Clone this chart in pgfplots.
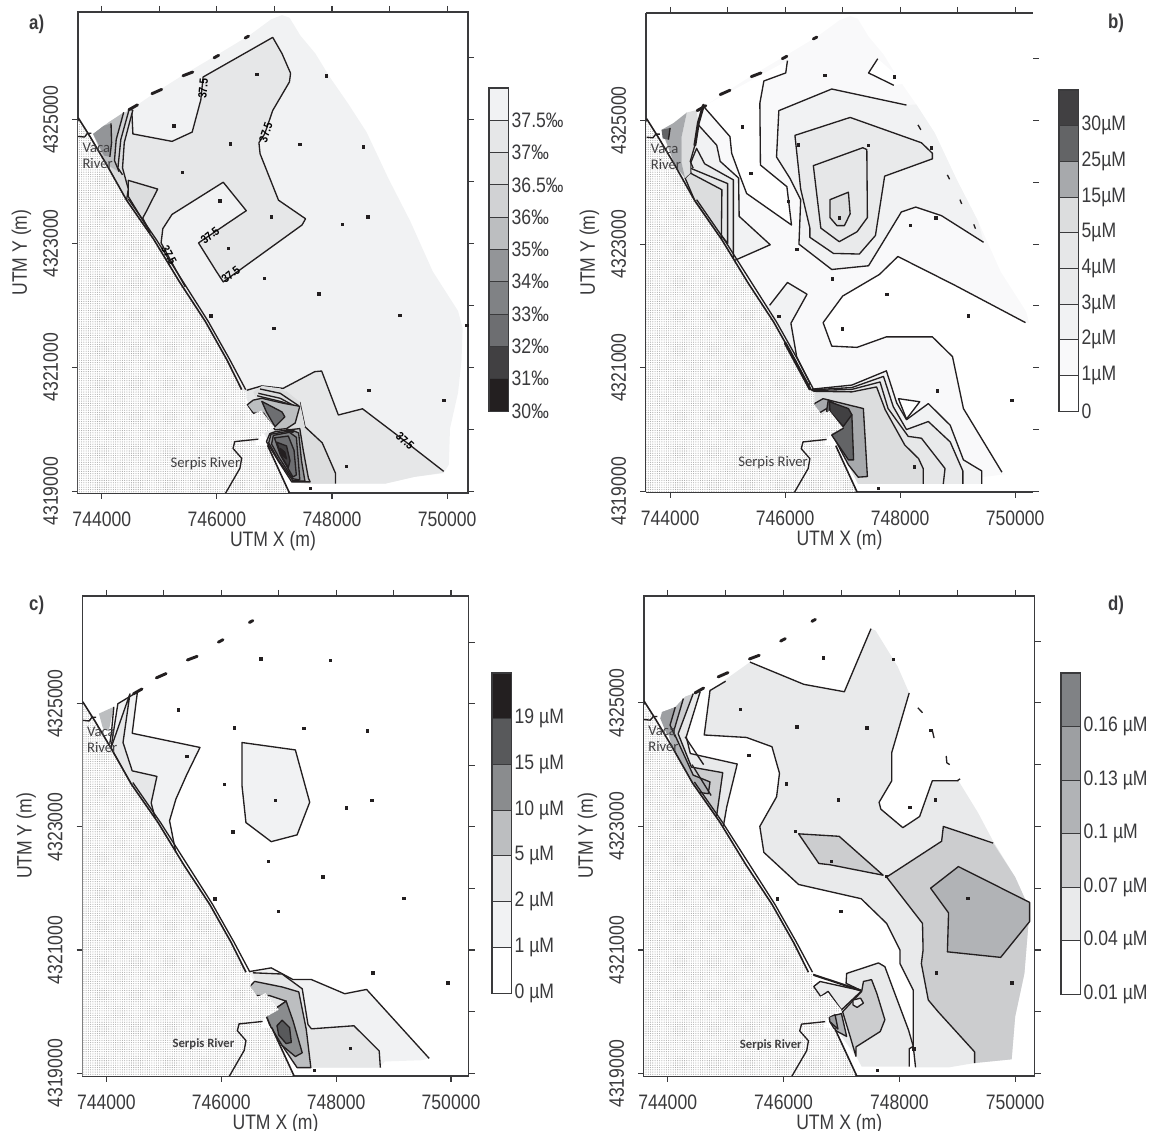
\documentclass[border=0pt]{standalone}
\usepackage{pgfplots}
\pgfplotsset{compat=1.18}
\usepackage{fontspec}
\setmainfont[FakeStretch=0.84]{Liberation Sans}
\newfontfamily\riverfont{Carlito}
\usetikzlibrary{patterns.meta}
\definecolor{gf9}{HTML}{F9F9FA}\definecolor{gf1}{HTML}{F1F2F3}\definecolor{ge9}{HTML}{E9EAEB}
\definecolor{ge6}{HTML}{E6E7E8}\definecolor{gdc}{HTML}{DCDDDE}\definecolor{gd1}{HTML}{D1D2D4}
\definecolor{gcc}{HTML}{CCCDCF}\definecolor{gbc}{HTML}{BCBEC0}\definecolor{gb1}{HTML}{B1B3B6}
\definecolor{ga7}{HTML}{A7A9AC}\definecolor{g9d}{HTML}{9D9FA2}\definecolor{g93}{HTML}{939598}
\definecolor{g8a}{HTML}{8A8C8E}\definecolor{g80}{HTML}{808285}\definecolor{g6d}{HTML}{6D6E71}
\definecolor{g63}{HTML}{636466}\definecolor{g58}{HTML}{58595B}\definecolor{g41}{HTML}{414042}
\definecolor{g23}{HTML}{231F20}\definecolor{fr}{HTML}{3A3A3C}
\newcommand\fil[2]{\addplot[fill=#1,draw=none] coordinates {#2} --cycle;}
\newcommand\reg[2]{\addplot[fill=#1,draw=g23,line width=1pt,line join=round] coordinates {#2} --cycle;}
\newcommand\ctr[1]{\addplot[draw=g23,line width=1pt,line join=round] coordinates {#1};}
\newcommand\dash[1]{\addplot[draw=g23,line width=2.2pt,line cap=round] coordinates {#1};}
\newcommand\domain[1]{\fil{#1}{(-0.15,5.77)(0.14,5.97)(0.65,6.26)(0.90,6.42)(1.41,6.72)(1.99,7.04)(2.56,7.36)(2.94,7.62)(3.13,7.69)(3.26,7.65)(3.45,7.36)(3.71,7.07)(3.96,6.69)(4.28,6.26)(4.60,5.80)(4.98,5.05)(5.36,4.36)(5.75,3.55)(6.19,2.91)(6.27,2.63)(6.25,2.11)(6.19,1.59)(6.05,1.01)(6.03,0.43)(5.94,0.29)(5.43,0.23)(4.92,0.12)(3.64,0.12)(3.32,0.14)(3.20,0.32)(2.91,0.78)(2.82,0.92)(3.0,1.07)(2.56,1.41)(2.43,1.64)(2.18,2.11)(1.80,2.74)(1.35,3.38)(0.90,4.07)(0.43,4.70)(0.08,5.28)}}
\newcommand\landarea{%
\addplot[fill=white,draw=none] coordinates {(-0.5,6.09)(-0.2,5.72)(0.08,5.28)(0.43,4.70)(0.90,4.07)(1.35,3.38)(1.80,2.74)(2.18,2.11)(2.43,1.64)(2.51,1.60)(2.51,1.40)(2.63,1.24)(2.77,1.30)(3.0,1.03)(2.79,0.92)(2.69,0.84)(2.69,0.74)(2.88,0.72)(3.27,-0.1)(-0.5,-0.1)} --cycle;
\addplot[pattern={Dots[distance=1.7pt,radius=0.42pt]},pattern color=black!34,draw=none] coordinates {(-0.5,6.09)(-0.2,5.72)(0.08,5.28)(0.43,4.70)(0.90,4.07)(1.35,3.38)(1.80,2.74)(2.18,2.11)(2.43,1.64)(2.51,1.60)(2.51,1.40)(2.63,1.24)(2.77,1.30)(3.0,1.03)(2.79,0.92)(2.69,0.84)(2.69,0.74)(2.88,0.72)(3.27,-0.1)(-0.5,-0.1)} --cycle;
\addplot[draw=g23,line width=1.2pt,line join=round] coordinates {(-0.41,6.03)(-0.2,5.72)(0.08,5.28)(0.43,4.70)(0.90,4.07)(1.35,3.38)(1.80,2.74)(2.18,2.11)(2.43,1.64)};
\ctr{(0.46,4.72)(0.95,4.06)(1.40,3.40)(1.85,2.74)(2.22,2.13)(2.5,1.64)}
\ctr{(2.72,0.84)(2.31,0.80)(2.28,0.69)(2.43,0.53)(2.40,0.37)(2.14,-0.05)}
\addplot[draw=g23,line width=1.2pt] coordinates {(2.88,0.74)(3.27,-0.05)};
\ctr{(-0.41,5.73)(-0.3,5.72)(-0.25,5.78)(-0.18,5.78)}
\dash{(0.47,6.16)(0.62,6.24)}\dash{(0.87,6.42)(1.04,6.49)}\dash{(1.41,6.71)(1.58,6.77)}\dash{(1.95,7.0)(2.03,7.04)}\dash{(2.49,7.32)(2.55,7.35)}
}
\newcommand\stations{\addplot[only marks,mark=square*,mark size=0.9pt,color=g23] coordinates {(2.69,6.73)(3.90,6.71)(1.25,5.90)(2.23,5.61)(3.44,5.60)(4.54,5.56)(1.40,5.15)(2.05,4.69)(2.94,4.43)(4.62,4.43)(4.18,4.31)(2.20,3.92)(2.82,3.44)(3.77,3.19)(5.18,2.84)(1.89,2.83)(2.99,2.63)(6.34,2.68)(4.64,1.63)(5.94,1.47)(4.25,0.40)(3.62,0.05)(3.20,7.77)};}
\pgfplotsset{
 map/.style={scale only axis,axis line style={fr,line width=0.9pt},clip=true,
  xtick={0,2,4,6},xticklabels={744000,746000,748000,750000},
  ytick={0,2,4,6},yticklabels={4319000,4321000,4323000,4325000},
  tick style={fr,line width=0.8pt},tick align=outside,
  xtick pos=bottom,ytick pos=left,major tick length=4.5pt,
  x tick label style={fill=none,yshift=-6pt,text=fr},
  y tick label style={rotate=90,anchor=south,yshift=7pt,text=fr},
  xlabel={UTM X (m)},ylabel={UTM Y (m)},
  xlabel style={text=fr,yshift=3.6pt},ylabel style={text=fr,yshift=2pt},
  font=\fontsize{15.7}{18}\selectfont,
  tick label style={font=\fontsize{15.7}{18}\selectfont},
  label style={font=\fontsize{15.7}{18}\selectfont}},
 mapt/.style={scale only axis,axis line style={draw=none},
  xtick={0,1,2,3,4,5,6},ytick={0,1,2,3,4,5,6,7},xticklabels={},yticklabels={},
  xtick pos=top,ytick pos=right,tick align=outside,tick style={fr,line width=0.8pt},major tick length=4.5pt},
 cbar/.style={scale only axis,width=14.5pt,xmin=0,xmax=1,xtick=\empty,ymin=0,
  axis line style={fr,line width=0.9pt},enlargelimits=false,
  ytick pos=right,ticklabel pos=right,major tick length=0pt,
  y tick label style={anchor=west,xshift=-1pt,text=fr,font=\fontsize{15.7}{18}\selectfont}},
}
\newcommand\seg[2]{\addplot[fill=#2,draw=fr,line width=0.7pt] coordinates {(0,#1)(1,#1)(1,#1+1)(0,#1+1)} --cycle;}
\tikzset{clab/.style={font=\fontsize{9}{9}\selectfont\bfseries,text=black,inner sep=0pt},
 rlab/.style={font=\riverfont\fontsize{11}{12}\selectfont,text=g41,inner sep=0pt,align=left}}
\begin{document}
\begin{tikzpicture}
\path[use as bounding box] (0,0) rectangle (862.5pt,848.25pt);
\node[font=\fontsize{15}{17}\selectfont\bfseries,text=fr] at (27.5pt,830pt) {a)};
\node[font=\fontsize{15}{17}\selectfont\bfseries,text=fr] at (837pt,831pt) {b)};
\node[font=\fontsize{15}{17}\selectfont\bfseries,text=fr] at (27.5pt,394pt) {c)};
\node[font=\fontsize{15}{17}\selectfont\bfseries,text=fr] at (837pt,394pt) {d)};
% ===== a =====
\begin{axis}[map,at={(58.5pt,478.5pt)},anchor=south west,width=292.5pt,height=360.75pt,xmin=-0.414,xmax=6.363,ymin=-0.03,ymax=7.74]
\domain{gf1}
\fil{ge6}{(0.52,6.17)(0.54,5.77)(1.22,5.65)(1.57,5.80)(1.72,6.32)(1.76,6.69)(2.97,7.33)(3.13,7.07)(3.28,6.75)(3.26,6.61)(2.97,6.15)(2.83,5.77)(2.73,5.63)(2.75,5.45)(3.07,4.70)(3.54,4.40)(3.48,4.30)(2.11,3.38)(1.99,3.55)(1.68,4.01)(2.51,4.53)(2.11,4.99)(1.22,4.47)(1.06,4.24)(1.03,4.01)(0.43,4.70)(0.30,5.3)}
\ctr{(0.52,6.17)(0.54,5.77)(1.22,5.65)(1.57,5.80)(1.72,6.32)(1.76,6.69)(2.97,7.33)(3.13,7.07)(3.28,6.75)(3.26,6.61)(2.97,6.15)(2.83,5.77)(2.73,5.63)(2.75,5.45)(3.07,4.70)(3.54,4.40)(3.48,4.30)(2.11,3.38)(1.99,3.55)(1.68,4.01)(2.51,4.53)(2.11,4.99)(1.22,4.47)(1.06,4.24)(1.03,4.01)(1.3,3.55)(1.45,3.3)}
\reg{gdc}{(0.46,5.02)(0.97,4.88)(0.78,4.53)(0.71,4.41)(0.84,4.18)(0.46,4.76)}
\fil{gdc}{(0.54,6.16)(0.39,5.63)(0.36,5.22)(0.46,4.88)(0.43,4.70)(0.08,5.28)(-0.15,5.77)(0.14,5.97)}
\ctr{(0.54,6.16)(0.39,5.63)(0.36,5.22)(0.46,4.88)(0.43,4.70)}
\fil{gd1}{(0.47,6.15)(0.33,5.68)(0.28,5.22)(0.36,5.11)(0.08,5.28)(-0.15,5.77)(0.14,5.97)}
\ctr{(0.47,6.15)(0.33,5.68)(0.28,5.22)(0.36,5.11)}
\fil{gbc}{(0.38,6.12)(0.25,5.68)(0.22,5.34)(0.30,5.16)(0.08,5.28)(-0.15,5.77)(0.14,5.97)}
\ctr{(0.38,6.12)(0.25,5.68)(0.22,5.34)(0.30,5.16)}
\fil{g93}{(0.16,5.94)(0.17,5.63)(0.14,5.40)(0.04,5.42)(-0.15,5.77)(0.03,5.90)}
\ctr{(0.16,5.94)(0.17,5.63)(0.14,5.40)}
% Serpis
\fil{ge6}{(2.43,1.64)(2.78,1.70)(3.15,1.66)(3.70,1.93)(3.82,1.94)(4.11,1.23)(4.53,1.33)(5.11,0.92)(5.94,0.30)(5.43,0.23)(4.92,0.12)(3.64,0.12)(3.32,0.14)(2.91,0.78)}
\ctr{(2.52,1.63)(2.78,1.70)(3.15,1.66)(3.70,1.93)(3.82,1.94)(4.11,1.23)(4.53,1.33)(5.11,0.92)(5.94,0.32)}
\fil{gdc}{(3.20,1.62)(3.44,1.44)(3.53,1.04)(3.83,0.78)(4.06,0.29)(4.06,0.12)(3.64,0.12)(3.32,0.14)(3.01,1.0)}
\ctr{(3.44,1.44)(3.53,1.04)(3.83,0.78)(4.06,0.29)(4.06,0.12)}
\fil{gdc}{(2.63,1.60)(2.78,1.70)(3.10,1.66)(3.44,1.44)(3.53,1.04)(3.21,1.01)(2.81,1.26)}
\ctr{(2.75,1.65)(3.1,1.58)(3.42,1.38)}\ctr{(2.72,1.58)(3.1,1.50)(3.42,1.34)}\ctr{(2.7,1.54)(3.1,1.45)(3.40,1.36)}
\reg{gbc}{(2.52,1.39)(2.63,1.47)(2.78,1.50)(3.15,1.42)(3.44,1.37)(3.36,1.10)(3.21,1.01)(3.01,0.99)(2.81,1.26)(2.63,1.26)}
\reg{g6d}{(2.78,1.45)(3.13,1.28)(3.18,1.20)(3.01,1.04)(2.86,1.28)}
\reg{gbc}{(2.92,0.93)(3.01,0.96)(3.24,0.99)(3.44,1.01)(3.50,0.66)(3.59,0.21)(3.62,0.15)(3.30,0.15)(3.07,0.48)(2.86,0.80)}
\reg{g93}{(2.94,0.92)(3.32,0.98)(3.42,0.94)(3.47,0.49)(3.53,0.16)(3.32,0.17)(3.07,0.50)(2.90,0.78)}
\reg{g80}{(2.98,0.90)(3.26,0.95)(3.38,0.87)(3.42,0.43)(3.44,0.18)(3.32,0.20)(3.08,0.54)(2.95,0.76)}
\reg{g6d}{(3.00,0.86)(3.24,0.89)(3.34,0.66)(3.38,0.26)(3.32,0.23)(3.10,0.59)}
\reg{g41}{(3.04,0.79)(3.21,0.73)(3.27,0.49)(3.24,0.38)(3.13,0.55)}
\reg{g23}{(3.10,0.69)(3.18,0.63)(3.21,0.52)(3.13,0.58)}
\dash{(3.22,0.99)(3.32,0.96)}
\landarea
\stations
\node[clab,rotate=85] at (axis cs:1.76,6.50) {37.5};
\node[clab,rotate=72] at (axis cs:2.85,5.79) {37.5};
\node[clab,rotate=38] at (axis cs:1.88,4.13) {37.5};
\node[clab,rotate=38] at (axis cs:2.24,3.50) {37.5};
\node[clab,rotate=-42] at (axis cs:5.27,0.81) {37.5};
\node[clab,rotate=-62] at (axis cs:1.17,3.81) {37.5};
\node[rlab,anchor=west] at (axis cs:-0.34,5.42) {Vaca\\River};
\node[rlab] at (axis cs:1.80,0.44) {Serpis River};
\end{axis}
\begin{axis}[mapt,at={(58.5pt,478.5pt)},anchor=south west,width=292.5pt,height=360.75pt,xmin=-0.414,xmax=6.363,ymin=-0.03,ymax=7.74]
\end{axis}
\begin{axis}[cbar,at={(366.75pt,540pt)},anchor=south west,height=242.25pt,ymax=10,
 ytick={0,1,2,3,4,5,6,7,8,9},yticklabels={30‰,31‰,32‰,33‰,34‰,35‰,36‰,36.5‰,37‰,37.5‰}]
\seg{0}{g23}\seg{1}{g41}\seg{2}{g6d}\seg{3}{g80}\seg{4}{g93}\seg{5}{gbc}\seg{6}{gd1}\seg{7}{gdc}\seg{8}{ge6}\seg{9}{gf1}
\end{axis}
% ===== b =====
\begin{axis}[map,axis y line*=left,at={(484.5pt,479.25pt)},anchor=south west,width=290.25pt,height=359.25pt,xmin=-0.42,xmax=6.31,ymin=-0.01,ymax=7.74]
\domain{gf9}
\fil{white}{(6.18,2.73)(4.94,3.34)(3.96,3.80)(3.64,3.51)(3.0,3.16)(2.66,2.73)(2.81,2.35)(3.25,2.33)(3.76,2.50)(4.56,2.50)(4.91,2.18)(5.10,1.34)(5.77,0.31)(6.4,0)(6.4,2.73)}
\ctr{(6.18,2.73)(4.94,3.34)(3.96,3.80)(3.64,3.51)(3.0,3.16)(2.66,2.73)(2.81,2.35)(3.25,2.33)(3.76,2.50)(4.56,2.50)(4.91,2.18)(5.10,1.34)(5.77,0.31)}
\fil{white}{(0.58,6.23)(2.04,6.97)(2.01,6.77)(1.63,6.64)(1.56,6.28)(1.57,5.28)(2.03,4.93)(2.11,4.31)(1.33,4.82)(1.22,5.09)(1.07,5.47)(1.04,5.74)}
\ctr{(2.04,6.97)(2.01,6.77)(1.63,6.64)(1.56,6.28)(1.57,5.28)(2.03,4.93)(2.11,4.31)(1.33,4.82)(1.22,5.09)(1.07,5.47)(1.04,5.74)(0.58,6.23)}
\fil{white}{(3.61,7.0)(3.45,6.77)(3.89,6.57)(4.1,6.6)}
\ctr{(3.61,7.0)(3.45,6.77)(3.89,6.57)}
\fil{gf1}{(4.11,6.25)(2.81,6.51)(1.89,6.16)(1.85,5.41)(2.08,5.07)(2.27,4.72)(2.24,4.0)(2.81,3.59)(3.45,3.65)(3.70,4.03)(4.02,4.52)(4.27,4.60)(4.72,4.46)(5.45,4.03)(5.36,4.36)(4.98,5.05)(4.60,5.80)(4.28,6.26)}
\ctr{(4.11,6.25)(2.81,6.51)(1.89,6.16)(1.85,5.41)(2.08,5.07)(2.27,4.72)(2.24,4.0)(2.81,3.59)(3.45,3.65)(3.70,4.03)(4.02,4.52)(4.27,4.60)(4.72,4.46)(5.45,4.03)}
\reg{ge9}{(2.17,5.76)(3.13,6.05)(4.37,5.64)(4.56,5.47)(4.56,5.38)(3.73,5.10)(3.57,4.14)(3.29,3.84)(2.84,3.85)(2.43,4.11)(2.43,4.26)(2.27,4.89)}
\reg{ge6}{(2.49,5.27)(3.35,5.56)(3.42,5.53)(3.43,4.43)(3.25,4.20)(2.94,4.04)(2.62,4.26)}
\reg{gdc}{(2.78,4.72)(3.10,4.84)(3.13,4.49)(3.03,4.30)(2.90,4.30)(2.78,4.43)}
% Vaca
\fil{gf1}{(0.49,5.93)(0.81,5.60)(0.87,5.34)(1.19,5.07)(1.2,4.45)(1.74,3.99)(1.13,3.74)(0.9,4.0)(0.43,4.7)(0.08,5.28)(0.3,6.0)}
\ctr{(0.49,5.93)(0.81,5.60)(0.87,5.34)(1.19,5.07)(1.2,4.45)(1.74,3.99)(1.13,3.74)}
\reg{ge9}{(0.46,5.55)(0.60,5.30)(1.10,5.04)(1.10,3.70)(0.43,4.7)(0.35,5.3)}
\reg{ge6}{(0.35,5.23)(1.0,4.98)(1.0,4.01)(0.43,4.7)}
\reg{gdc}{(0.35,5.15)(0.90,4.88)(0.89,4.07)(0.43,4.7)(0.26,5.07)}
\fil{gdc}{(0.46,6.17)(0.29,6.13)(0.20,5.74)(0.20,5.31)(0.26,5.07)(0.35,5.15)(0.35,5.34)(0.43,5.6)(0.49,5.96)}
\fil{ga7}{(0.29,6.13)(0.20,5.74)(0.20,5.31)(0.26,5.07)(0.08,5.28)(-0.15,5.85)(0.06,5.96)}
\fil{g63}{(-0.15,5.85)(0,5.88)(-0.03,5.69)(-0.13,5.71)}
\ctr{(0,5.88)(-0.03,5.69)}
\dash{(0.58,6.25)(0.49,5.96)(0.43,5.6)}
\ctr{(0.43,5.6)(0.35,5.34)(0.40,5.23)}
% Serpis
\fil{gf1}{(2.43,1.65)(3.16,1.72)(3.76,1.95)(3.94,1.43)(4.11,1.16)(4.49,1.42)(4.87,1.07)(5.10,0.51)(5.42,0.33)(5.42,0.12)(3.27,0.12)(3.10,0.43)(2.81,0.94)(2.49,1.40)}
\ctr{(2.43,1.65)(3.16,1.72)(3.76,1.95)(3.94,1.43)(4.11,1.16)(4.49,1.42)(4.87,1.07)(5.10,0.51)(5.42,0.33)(5.42,0.12)}
\fil{ge9}{(2.43,1.64)(3.16,1.68)(3.71,1.86)(3.88,1.37)(4.11,1.0)(4.49,1.13)(4.87,0.80)(5.09,0.33)(5.09,0.12)(3.27,0.12)(3.10,0.43)(2.81,0.94)(2.49,1.40)}
\ctr{(2.43,1.64)(3.16,1.68)(3.71,1.86)(3.88,1.37)(4.11,1.0)(4.49,1.13)(4.87,0.80)(5.09,0.33)(5.09,0.12)}
\fil{ge6}{(2.43,1.63)(3.16,1.65)(3.65,1.77)(3.79,1.34)(4.14,0.89)(4.37,0.86)(4.78,0.37)(4.75,0.12)(3.27,0.12)(3.10,0.43)(2.81,0.94)(2.49,1.40)}
\ctr{(2.43,1.63)(3.16,1.65)(3.65,1.77)(3.79,1.34)(4.14,0.89)(4.37,0.86)(4.78,0.37)(4.75,0.12)}
\fil{gdc}{(2.43,1.62)(3.16,1.61)(3.59,1.69)(3.74,1.32)(4.08,0.75)(4.32,0.53)(4.40,0.37)(4.40,0.12)(3.27,0.12)(3.10,0.43)(2.81,0.94)(2.49,1.40)}
\ctr{(2.43,1.62)(3.16,1.61)(3.59,1.69)(3.74,1.32)(4.08,0.75)(4.32,0.53)(4.40,0.37)(4.40,0.12)}
\reg{white}{(3.97,1.50)(4.34,1.45)(4.11,1.17)}
\reg{ga7}{(2.49,1.41)(2.66,1.50)(3.36,1.34)(3.43,0.24)(3.27,0.23)(3.10,0.43)(2.81,0.94)(2.98,1.02)(2.72,1.34)(2.58,1.26)}
\reg{g63}{(2.75,1.48)(3.16,1.24)(3.19,0.51)(3.10,0.51)(2.81,0.91)(3.01,1.02)(2.72,1.30)}
\reg{g41}{(2.77,1.45)(3.10,1.34)(3.16,1.24)(3.01,1.05)(2.78,1.29)}
\fil{gf1}{(1.73,3.01)(2.04,3.38)(2.38,3.19)(2.10,2.72)(2.20,2.18)(2.43,1.75)(2.36,1.66)(2.18,2.11)(1.80,2.74)(1.6,3.0)}
\ctr{(1.73,3.01)(2.04,3.38)(2.38,3.19)(2.10,2.72)(2.20,2.18)(2.43,1.75)(2.36,1.66)}
\ctr{(4.31,5.93)(4.36,5.85)}\ctr{(4.82,5.12)(4.86,5.05)}\ctr{(5.04,4.72)(5.07,4.65)}\ctr{(5.28,4.32)(5.31,4.25)}
\landarea
\dash{(2.0,2.4)(2.43,1.66)}
\stations
\node[rlab,anchor=west] at (axis cs:-0.34,5.42) {Vaca\\River};
\node[rlab] at (axis cs:1.79,0.46) {Serpis River};
\end{axis}
\begin{axis}[mapt,at={(484.5pt,479.25pt)},anchor=south west,width=290.25pt,height=359.25pt,xmin=-0.42,xmax=6.31,ymin=-0.01,ymax=7.74]
\end{axis}
\begin{axis}[cbar,at={(794.25pt,540pt)},anchor=south west,height=240.75pt,ymax=9,
 ytick={0,1,2,3,4,5,6,7,8},yticklabels={0,1µM,2µM,3µM,4µM,5µM,15µM,25µM,30µM}]
\seg{0}{white}\seg{1}{gf9}\seg{2}{gf1}\seg{3}{ge9}\seg{4}{ge6}\seg{5}{gdc}\seg{6}{ga7}\seg{7}{g63}\seg{8}{g41}
\end{axis}
% ===== c =====
\begin{axis}[map,at={(61.9pt,41.25pt)},anchor=south west,width=289.5pt,height=360pt,xmin=-0.415,xmax=6.305,ymin=-0.046,ymax=7.75]
\reg{gf1}{(2.36,5.37)(3.29,5.25)(3.54,4.40)(3.32,3.87)(2.87,3.76)(2.43,4.07)(2.36,4.68)}
\reg{gf1}{(0.54,6.19)(0.45,5.52)(1.63,5.29)(1.40,4.85)(1.21,4.45)(1.10,4.10)(1.21,3.58)(0.97,3.95)(0.43,4.70)(0.08,5.28)(0.2,6.0)}
\reg{ge6}{(0.41,6.16)(0.29,5.37)(0.45,4.91)(0.88,4.82)(0.78,4.39)(0.86,4.10)(1.08,3.69)(0.90,4.0)(0.43,4.70)(0.08,5.28)}
\fil{gbc}{(0.13,5.95)(0.04,5.55)(-0.06,5.6)(-0.13,5.84)}
\ctr{(0.13,5.95)(0.09,5.55)(0.06,5.35)}
\fil{gf1}{(2.49,1.65)(2.87,1.71)(3.25,1.52)(3.57,1.52)(4.15,1.29)(4.53,1.36)(5.62,0.24)(5.49,0.21)(4.85,0.19)(4.75,0.09)(3.32,0.09)(2.91,0.78)}
\ctr{(2.49,1.65)(2.87,1.71)(3.25,1.52)(3.57,1.52)(4.15,1.29)(4.53,1.36)(5.62,0.24)}
\fil{ge6}{(2.55,1.63)(3.06,1.61)(3.41,1.37)(3.51,0.79)(3.57,0.72)(4.31,0.77)(4.75,0.36)(4.77,0.09)(3.32,0.09)(3.03,0.50)(2.78,0.94)}
\ctr{(2.55,1.63)(3.06,1.61)(3.41,1.37)(3.51,0.79)(3.57,0.72)(4.31,0.77)(4.75,0.36)(4.77,0.09)}
\reg{gbc}{(2.49,1.40)(2.58,1.49)(3.06,1.40)(3.35,1.32)(3.48,0.71)(3.56,0.09)(3.32,0.09)(3.06,0.45)(2.84,0.79)(2.78,0.94)(3.13,1.17)(2.84,1.26)(2.58,1.26)}
\reg{g8a}{(2.78,0.94)(3.13,1.17)(3.25,0.85)(3.41,0.33)(3.29,0.27)(3.06,0.45)(2.87,0.74)}
\reg{g58}{(2.97,0.77)(3.06,0.86)(3.19,0.74)(3.22,0.50)(3.13,0.48)(3.0,0.62)}
\landarea
\stations
\node[rlab,anchor=west] at (axis cs:-0.34,5.42) {Vaca\\River};
\node[rlab,font=\riverfont\fontsize{9.5}{11}\selectfont\bfseries] at (axis cs:1.69,0.47) {Serpis River};
\end{axis}
\begin{axis}[mapt,at={(61.9pt,41.25pt)},anchor=south west,width=289.5pt,height=360pt,xmin=-0.415,xmax=6.305,ymin=-0.046,ymax=7.75]
\end{axis}
\begin{axis}[cbar,at={(369pt,103.5pt)},anchor=south west,height=240pt,ymax=7,
 ytick={0,1,2,3,4,5,6},yticklabels={0 µM,1 µM,2 µM,5 µM,10 µM,15 µM,19 µM}]
\seg{0}{white}\seg{1}{gf1}\seg{2}{ge6}\seg{3}{gbc}\seg{4}{g8a}\seg{5}{g58}\seg{6}{g23}
\end{axis}
% ===== d =====
\begin{axis}[map,at={(483pt,41.25pt)},anchor=south west,width=292.9pt,height=360pt,xmin=-0.41,xmax=6.335,ymin=-0.04,ymax=7.73]
\fil{ge9}{(0.73,6.20)(1.42,6.66)(2.35,6.30)(3.05,6.18)(3.51,7.20)(3.59,7.17)(3.97,6.59)(4.17,6.16)(3.87,5.20)(3.87,4.74)(3.65,4.39)(3.68,4.28)(4.06,3.98)(4.35,4.16)(4.57,4.74)(5.02,4.74)(5.36,4.22)(5.62,3.76)(6.0,3.18)(6.25,2.66)(6.16,1.62)(6.0,0.92)(5.94,0.23)(5.30,0.17)(4.86,0.10)(4.28,0.10)(4.24,0.44)(4.24,1.35)(4.01,1.78)(4.01,2.0)(3.78,2.43)(3.34,2.83)(2.26,3.06)(1.66,3.58)(1.59,4.0)(1.88,4.48)(1.93,4.86)(1.80,5.29)(1.36,5.44)(0.63,5.48)}
\ctr{(1.42,6.66)(2.35,6.30)(3.05,6.18)(3.51,7.20)}
\ctr{(4.17,6.16)(3.87,5.20)(3.87,4.74)(3.65,4.39)(3.68,4.28)(4.06,3.98)(4.35,4.16)(4.57,4.74)(5.02,4.74)}
\ctr{(4.28,0.10)(4.24,0.44)(4.24,1.35)(4.01,1.78)(4.01,2.0)(3.78,2.43)(3.34,2.83)(2.26,3.06)(1.66,3.58)(1.59,4.0)(1.88,4.48)(1.93,4.86)(1.80,5.29)(1.36,5.44)(0.63,5.48)(0.73,6.20)(1.0,6.35)}
\fil{gcc}{(4.76,4.0)(5.62,3.73)(6.0,3.18)(6.25,2.66)(6.16,1.62)(6.0,0.92)(5.94,0.23)(5.30,0.17)(5.30,0.35)(4.67,1.0)(4.50,1.19)(4.38,1.78)(4.41,2.0)(4.40,2.43)(3.78,3.18)(4.73,3.76)}
\ctr{(5.62,3.73)(4.76,4.0)(4.73,3.76)(3.78,3.18)(4.40,2.43)(4.41,2.0)(4.38,1.78)(4.50,1.19)(4.67,1.0)(5.30,0.35)(5.30,0.17)}
\reg{gb1}{(5.02,3.35)(6.25,2.77)(6.25,2.46)(5.75,1.88)(4.83,1.97)(4.85,2.60)(4.54,3.0)}
\reg{gcc}{(2.26,3.88)(2.96,3.84)(3.72,3.21)(2.80,3.38)(2.61,3.40)}
% Serpis
\fil{ge9}{(3.08,1.46)(3.09,1.62)(3.64,1.79)(3.75,1.73)(3.90,1.35)(4.16,0.70)(4.24,0.44)(4.17,0.40)(4.17,0.11)(3.35,0.11)(3.26,0.27)(3.0,0.60)(2.89,0.72)(3.0,1.03)(3.35,1.34)}
\ctr{(3.35,1.34)(3.08,1.46)(3.09,1.62)(3.64,1.79)(3.75,1.73)(3.90,1.35)(4.16,0.70)(4.24,0.44)(4.17,0.40)(4.17,0.11)}
\reg{ge9}{(2.51,1.40)(2.63,1.49)(3.35,1.34)(3.0,1.03)(2.77,1.33)(2.63,1.24)}
\addplot[draw=g23,line width=1.6pt] coordinates {(2.51,1.60)(3.38,1.33)};
\dash{(2.51,1.40)(2.63,1.24)}
\reg{gcc}{(3.38,1.49)(3.52,1.52)(3.61,1.30)(3.75,0.87)(3.67,0.68)(3.25,0.43)(3.25,0.28)(3.15,0.60)(3.02,1.0)(3.35,1.33)}
\reg{ge9}{(3.20,1.19)(3.33,1.22)(3.38,1.14)(3.27,1.07)(3.20,1.11)}
\reg{gb1}{(2.79,0.92)(3.0,0.97)(3.09,0.60)(2.89,0.70)(2.80,0.84)}
\reg{g9d}{(2.79,0.92)(2.89,0.95)(2.94,0.72)(2.80,0.84)}
% Vaca
\fil{ge9}{(0.56,6.18)(0.32,5.45)(0.39,5.18)(1.20,5.01)(1.02,4.32)(0.96,4.0)(0.43,4.70)(0.08,5.28)(-0.10,5.85)(0.13,5.93)(0.30,6.10)}
\ctr{(0.56,6.18)(0.32,5.45)(0.39,5.18)(1.20,5.01)(1.02,4.32)(0.96,4.0)}
\fil{gcc}{(0.44,6.15)(0.18,5.50)(0.41,4.96)(0.95,4.87)(0.85,4.21)(0.82,4.1)(0.43,4.70)(0.08,5.28)(-0.10,5.85)(0.13,5.93)(0.30,6.10)}
\ctr{(0.44,6.15)(0.18,5.50)(0.41,4.96)(0.95,4.87)(0.85,4.21)(0.82,4.1)}
\fil{gb1}{(0.27,6.07)(0.10,5.53)(0.44,4.83)(0.73,4.72)(0.70,4.53)(0.55,4.55)(0.43,4.70)(0.08,5.28)(-0.10,5.85)(0.13,5.93)}
\ctr{(0.27,6.07)(0.10,5.53)(0.44,4.83)(0.73,4.72)(0.70,4.53)(0.55,4.55)}
\fil{g9d}{(0.13,5.93)(0.04,5.64)(0.13,5.45)(-0.02,5.5)(-0.13,5.75)(-0.10,5.85)}
\ctr{(0.13,5.93)(0.04,5.64)(0.13,5.45)}
\ctr{(4.32,5.92)(4.4,5.84)}\ctr{(4.57,5.55)(4.6,5.43)}\ctr{(4.81,5.14)(4.82,5.03)(4.87,5.0)}\ctr{(5.0,4.74)(5.05,4.77)}
\landarea
\ctr{(0.30,5.45)(0.62,5.0)}\ctr{(0.42,5.0)(0.75,4.5)}
\stations
\node[rlab,anchor=west] at (axis cs:-0.34,5.42) {Vaca\\River};
\node[rlab,font=\riverfont\fontsize{9.5}{11}\selectfont\bfseries] at (axis cs:1.78,0.46) {Serpis River};
\end{axis}
\begin{axis}[mapt,at={(483pt,41.25pt)},anchor=south west,width=292.9pt,height=360pt,xmin=-0.41,xmax=6.335,ymin=-0.04,ymax=7.73]
\end{axis}
\begin{axis}[cbar,at={(795.75pt,102.75pt)},anchor=south west,height=240.75pt,ymax=6,
 ytick={0,1,2,3,4,5},yticklabels={0.01 µM,0.04 µM,0.07 µM,0.1 µM,0.13 µM,0.16 µM}]
\seg{0}{white}\seg{1}{ge9}\seg{2}{gcc}\seg{3}{gb1}\seg{4}{g9d}\seg{5}{g80}
\end{axis}
\end{tikzpicture}
\end{document}
